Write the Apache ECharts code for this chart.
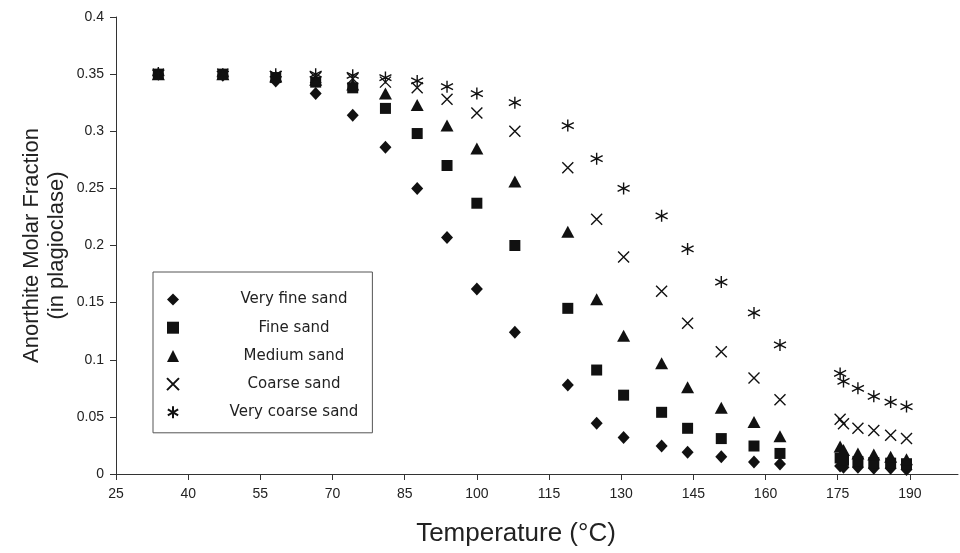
<!DOCTYPE html>
<html>
<head>
<meta charset="utf-8">
<script src="https://cdn.jsdelivr.net/npm/echarts@6/dist/echarts.min.js"></script>
<style>html,body{margin:0;padding:0;background:#fff;}#c{width:960px;height:553px;}</style>
</head>
<body>
<div id="c"></div>
<script>
const temps = [33.8, 47.2, 58.2, 66.5, 74.2, 81.0, 87.6, 93.8, 100.0, 107.9, 118.9, 124.9, 130.5, 138.4, 143.8, 150.8, 157.6, 163.0, 175.5, 176.2, 179.2, 182.5, 186.0, 189.3];
const veryFine   = [0.350, 0.349, 0.344, 0.333, 0.314, 0.286, 0.250, 0.207, 0.162, 0.124, 0.078, 0.0445, 0.032, 0.0245, 0.019, 0.015, 0.0105, 0.0088, 0.007, 0.006, 0.006, 0.005, 0.005, 0.004];
const fine       = [0.350, 0.350, 0.347, 0.343, 0.338, 0.320, 0.298, 0.270, 0.237, 0.200, 0.145, 0.091, 0.069, 0.054, 0.040, 0.031, 0.0245, 0.018, 0.014, 0.012, 0.011, 0.010, 0.0095, 0.009];
const medium     = [0.350, 0.350, 0.348, 0.345, 0.341, 0.333, 0.323, 0.305, 0.285, 0.256, 0.212, 0.153, 0.121, 0.097, 0.076, 0.058, 0.0455, 0.033, 0.024, 0.021, 0.018, 0.017, 0.015, 0.013];
const coarse     = [0.350, 0.350, 0.348, 0.347, 0.346, 0.343, 0.338, 0.328, 0.316, 0.300, 0.268, 0.223, 0.190, 0.160, 0.132, 0.107, 0.084, 0.065, 0.048, 0.044, 0.040, 0.038, 0.034, 0.031];
const veryCoarse = [0.351, 0.350, 0.350, 0.350, 0.349, 0.347, 0.344, 0.339, 0.333, 0.325, 0.305, 0.276, 0.250, 0.226, 0.197, 0.168, 0.141, 0.113, 0.088, 0.081, 0.075, 0.068, 0.063, 0.059];
const seriesNames = ['Very fine sand', 'Fine sand', 'Medium sand', 'Coarse sand', 'Very coarse sand'];

const crossPath = 'path://M0,0L10,10M10,0L0,10';
const starPath = 'path://M5,0L5,10M0.7,2.5L9.3,7.5M0.7,7.5L9.3,2.5';

function pts(arr){ return temps.map((t,i)=>[t, arr[i]]); }

const filled = {color:'#111', opacity:1};
const stroked = {color:'rgba(0,0,0,0)', borderColor:'#111', borderWidth:1.4, opacity:1};

const chart = echarts.init(document.getElementById('c'), null, {renderer:'canvas'});
chart.setOption({
  animation:false,
  backgroundColor:'#fff',
  grid:{left:116, top:17, right:2, bottom:79, containLabel:false, outerBoundsMode:'none'},
  xAxis:{
    type:'value', min:25, max:200, interval:15,
    name:'Temperature (°C)', nameLocation:'middle', nameGap:47, nameMoveOverlap:false,
    nameTextStyle:{fontFamily:'Liberation Sans, sans-serif', fontSize:26, color:'#222', padding:[0, 42, 0, 0]},
    axisLine:{lineStyle:{color:'#333', width:1}},
    axisTick:{show:true, length:6, lineStyle:{color:'#333'}},
    axisLabel:{fontFamily:'Liberation Sans Narrow, Liberation Sans, sans-serif', fontSize:14, color:'#222', margin:13, showMaxLabel:false},
    splitLine:{show:false}
  },
  yAxis:{
    type:'value', min:0, max:0.4, interval:0.05,
    name:'Anorthite Molar Fraction\n(in plagioclase)', nameLocation:'middle', nameGap:47, nameRotate:90, nameMoveOverlap:false,
    nameTextStyle:{fontFamily:'Liberation Sans, sans-serif', fontSize:22, color:'#222', lineHeight:25},
    axisLine:{show:true, lineStyle:{color:'#333', width:1}},
    axisTick:{show:true, length:6, lineStyle:{color:'#333'}},
    axisLabel:{fontFamily:'Liberation Sans Narrow, Liberation Sans, sans-serif', fontSize:14, color:'#222', margin:12},
    splitLine:{show:false}
  },
  legend:{
    orient:'vertical', left:153, top:272,
    padding:[20, 14, 13, 13],
    itemWidth:12, itemHeight:12, itemGap:13.2,
    borderColor:'#555', borderWidth:1,
    data:seriesNames,
    formatter:function(n){ return '{s| }{a|' + n + '}'; },
    textStyle:{
      color:'#222', fontFamily:'DejaVu Sans, sans-serif', fontSize:15,
      rich:{
        s:{width:40, fontSize:15},
        a:{width:140, align:'center', fontSize:15, fontFamily:'DejaVu Sans, sans-serif', color:'#222'}
      }
    }
  },
  series:[
    {name:seriesNames[0], type:'scatter', symbol:'diamond', symbolSize:[12,13], itemStyle:filled, data:pts(veryFine)},
    {name:seriesNames[1], type:'scatter', symbol:'rect', symbolSize:11, itemStyle:filled, data:pts(fine)},
    {name:seriesNames[2], type:'scatter', symbol:'triangle', symbolSize:[13,12], itemStyle:filled, data:pts(medium)},
    {name:seriesNames[3], type:'scatter', symbol:crossPath, symbolSize:11, itemStyle:stroked, data:pts(coarse)},
    {name:seriesNames[4], type:'scatter', symbol:starPath, symbolSize:12, itemStyle:stroked, data:pts(veryCoarse)}
  ]
});
</script>
</body>
</html>
